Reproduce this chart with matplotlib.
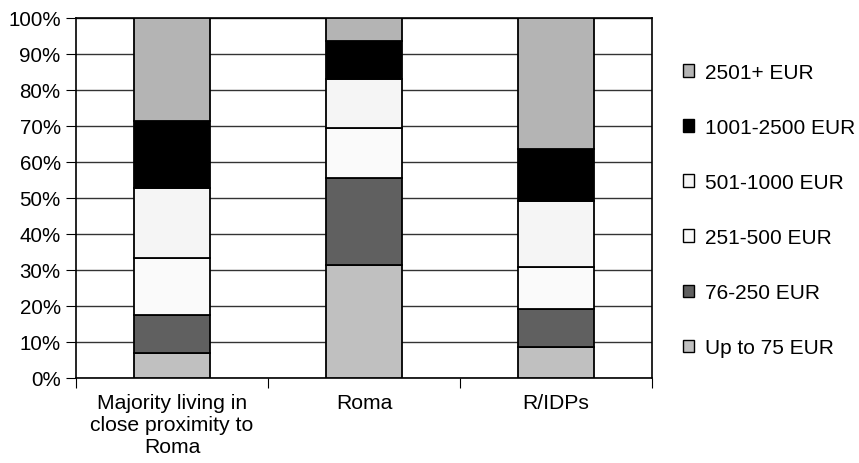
import matplotlib.pyplot as plt
import numpy as np
from matplotlib.patches import Patch

plt.rcParams['font.family'] = ['Liberation Sans', 'DejaVu Sans']

groups = ['Majority living in\nclose proximity to\nRoma', 'Roma', 'R/IDPs']
bands = ['Up to 75 EUR', '76-250 EUR', '251-500 EUR', '501-1000 EUR',
         '1001-2500 EUR', '2501+ EUR']
colors = ['#c0c0c0', '#606060', '#fafafa', '#f5f5f5', '#000000', '#b4b4b4']

# percent share per band, bottom to top
up_to_75 = [7.0, 31.4, 8.5]
eur_76_250 = [10.6, 24.2, 10.6]
eur_251_500 = [15.6, 13.8, 11.8]
eur_501_1000 = [19.5, 13.7, 18.2]
eur_1001_2500 = [18.7, 10.4, 14.5]
eur_2501_plus = [28.6, 6.5, 36.4]
shares = [up_to_75, eur_76_250, eur_251_500, eur_501_1000, eur_1001_2500, eur_2501_plus]

fig = plt.figure(figsize=(8.59, 4.64), dpi=100)
ax = fig.add_axes([76/859, 1 - 379/464, 576/859, 360/464])

x = np.arange(len(groups))
bottom = np.zeros(len(groups))
for vals, col in zip(shares, colors):
    ax.bar(x, vals, 0.4, bottom=bottom, color=col, edgecolor='black', linewidth=1.3, zorder=3)
    bottom += np.array(vals)

ax.set_ylim(0, 100)
ax.set_xlim(-0.5, 2.5)
ax.set_yticks(np.arange(0, 101, 10))
ax.set_yticklabels([f'{v}%' for v in range(0, 101, 10)])
ax.yaxis.grid(True, color='#333333', linewidth=1.0, zorder=0)

ax.set_xticks([-0.5, 0.5, 1.5, 2.5])
ax.set_xticklabels([])
ax.set_xticks(x, minor=True)
ax.set_xticklabels(groups, minor=True, linespacing=1.2)
ax.tick_params(axis='x', which='minor', length=0, pad=11, labelsize=15.2)
ax.tick_params(axis='x', which='major', length=7, direction='out', color='black')
ax.tick_params(axis='y', length=7, direction='out', labelsize=14.8, pad=4)
for s in ax.spines.values():
    s.set_color('black')
    s.set_linewidth(1.2)

handles = [Patch(facecolor=c, edgecolor='black', linewidth=1.0) for c in colors][::-1]
fig.legend(handles, bands[::-1], loc='upper left', bbox_to_anchor=(683/859, 1 - 64/464),
           frameon=False, fontsize=15, handlelength=0.55, handleheight=0.55,
           handletextpad=0.5, labelspacing=1.73, borderaxespad=0, borderpad=0)

fig.savefig('out.png', dpi=100)
